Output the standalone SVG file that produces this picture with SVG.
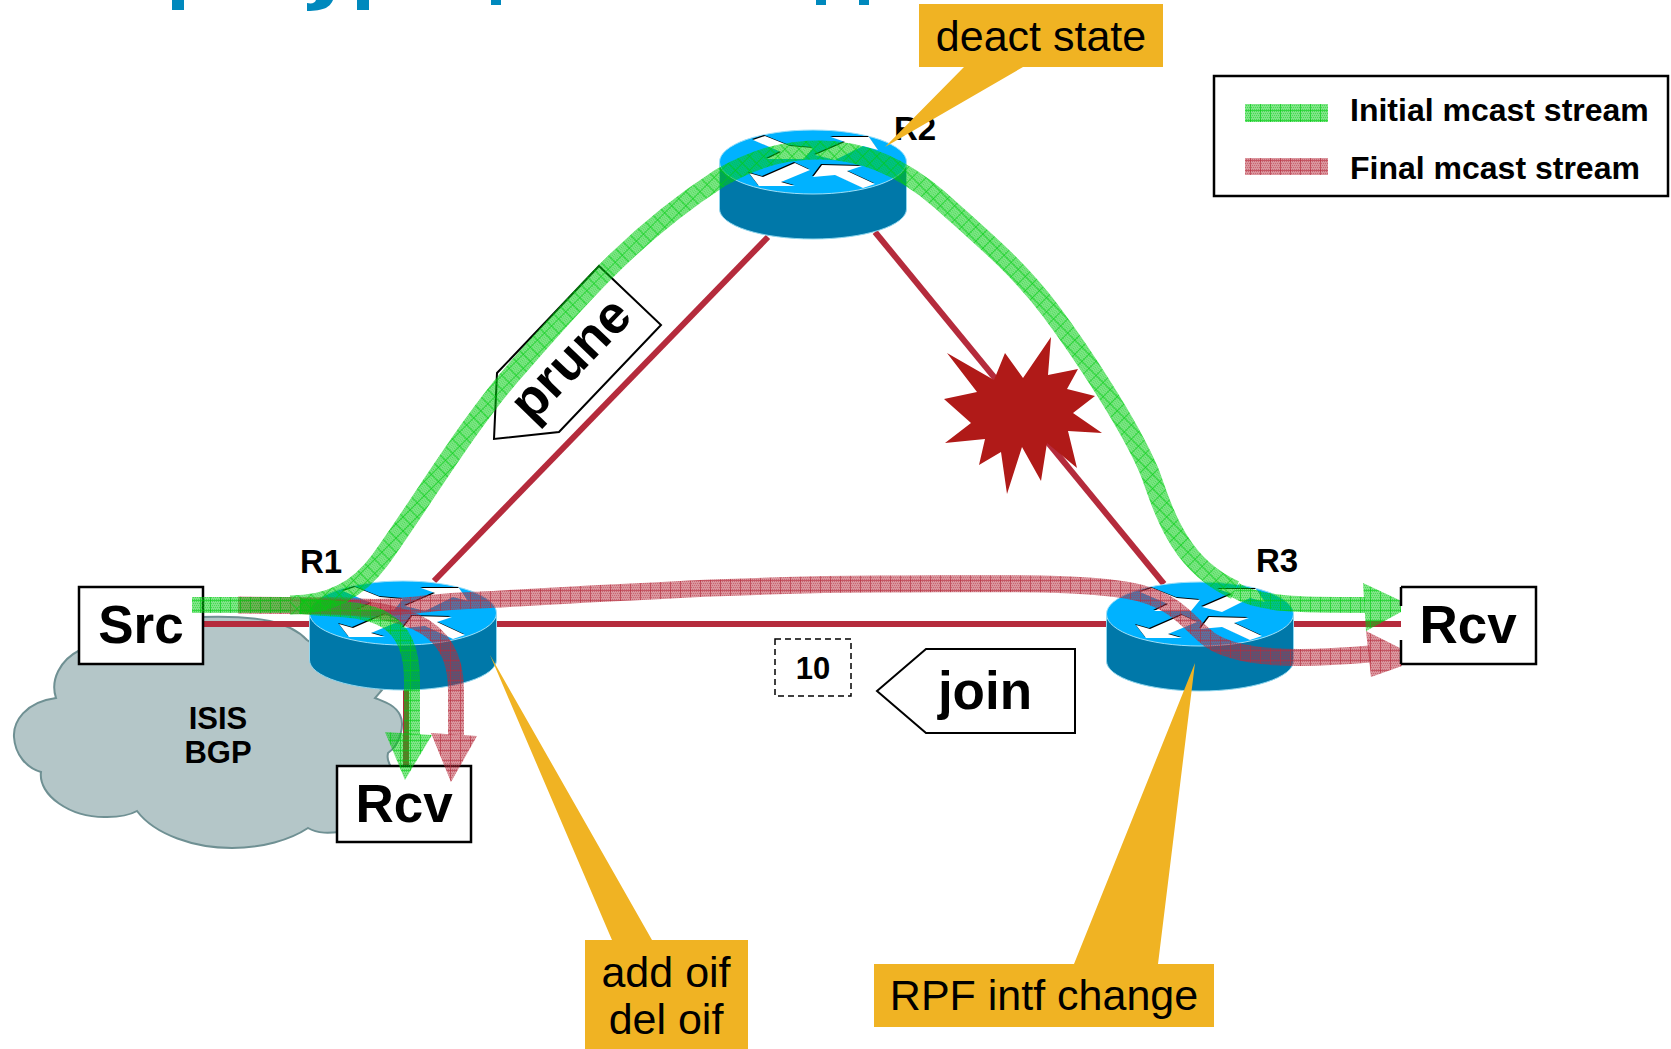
<svg xmlns="http://www.w3.org/2000/svg" width="1671" height="1049" viewBox="0 0 1671 1049">
<style>
text{font-family:"Liberation Sans",Arial,sans-serif;fill:#000}
.b{font-weight:700}
.m{text-anchor:middle}
.big{font-size:53px}
.lab{font-size:33px}
.leg{font-size:32px}
.call{font-size:43px}
.box{fill:#fff;stroke:#000;stroke-width:2.5}
.tip{fill:#f0b323}
.link{stroke:#b52b3c;stroke-width:6;fill:none}
.gs{fill:none;stroke:url(#gd);stroke-width:19}
.gb{fill:none;stroke:url(#gp);stroke-width:16}
.rb{fill:none;stroke:url(#rp);stroke-width:16}
.rs{fill:none;stroke:url(#rp);stroke-width:17}
.ga{fill:url(#gp)}
.ra{fill:url(#rp)}
.title{fill:#0089bd}
</style>
<defs>
<pattern id="gp" width="10" height="10" patternUnits="userSpaceOnUse">
<rect width="10" height="10" fill="#00cc10" fill-opacity=".5"/>
<path d="M0 1.5H10M1 3.5H10M0 5.5H10M1 7.5H10M0 9.5H10" stroke="#00cc10" stroke-opacity=".45" stroke-dasharray="1 1"/>
<path d="M0 .5H10M.5 0V10" stroke="#00cc10" stroke-opacity=".6"/>
</pattern>
<pattern id="gd" href="#gp" patternTransform="rotate(45)"/>
<pattern id="rp" width="10" height="10" patternUnits="userSpaceOnUse">
<rect width="10" height="10" fill="#b52b3c" fill-opacity=".5"/>
<path d="M0 1.5H10M1 3.5H10M0 5.5H10M1 7.5H10M0 9.5H10" stroke="#b52b3c" stroke-opacity=".45" stroke-dasharray="1 1"/>
<path d="M0 .5H10M.5 0V10" stroke="#b52b3c" stroke-opacity=".6"/>
</pattern>
<g id="router">
<path d="M-93.5 0V47A93.5 30 0 0 0 93.5 47V0Z" fill="#0078a9" stroke="#8fd6ee" stroke-width="1"/>
<ellipse rx="93.5" ry="32" fill="#00b2ff" stroke="#9fe0f8" stroke-width="1"/>
<g fill="#000" transform="translate(-1 -1)">
<path d="M-60-22-48-26-23-16 0-14-9-3-46-3-32-10Z"/><path d="M65-12 56-25H18L32-20 2-7 22-2 50-16Z"/><path d="M-64 11-54 24-18 24-32 20-3 8-18 1-50 15Z"/><path d="M62 22 50 26 22 13 0 15 9 3 49 4 34 9Z"/>
</g>
<g fill="#fff">
<path d="M-60-22-48-26-23-16 0-14-9-3-46-3-32-10Z"/><path d="M65-12 56-25H18L32-20 2-7 22-2 50-16Z"/><path d="M-64 11-54 24-18 24-32 20-3 8-18 1-50 15Z"/><path d="M62 22 50 26 22 13 0 15 9 3 49 4 34 9Z"/>
</g>
</g>
</defs>
<rect width="1671" height="1049" fill="#fff"/>
<g id="title-fragment" class="title">
<rect x="172" y="0" width="12" height="10"/>
<path d="M316 0H333C330 7 324 11 307 11V3C312 4 315 3 316 0Z"/>
<rect x="357" y="0" width="12" height="10"/>
<rect x="491" y="0" width="10" height="5"/>
<rect x="816" y="0" width="10" height="5"/>
<rect x="859" y="0" width="10" height="5"/>
</g>
<g id="cloud">
<path d="M80 650C60 660 50 680 56 698C25 702 13 722 14 737C15 755 27 768 41 772C38 795 70 818 107 817C120 817 130 815 137 811C155 835 195 848 232 848C262 848 290 840 308 828C318 834 330 833 340 832L390 765C386 758 388 755 388 753C400 745 405 725 400 715C395 705 385 702 375 698L382 690L307 640C290 622 260 615 200 617Z" fill="#b4c6c8" stroke="#6f9093" stroke-width="2"/>
<text class="b m" x="218" y="729" font-size="31">ISIS</text>
<text class="b m" x="218" y="763" font-size="31">BGP</text>
</g>
<g id="links">
<path class="link" d="M202 624H1401"/>
<path class="link" d="M434 581L768 237"/>
<path class="link" d="M875 232L1164 584"/>
<path class="link" d="M406 688V766"/>
</g>
<g id="node-r1"><use href="#router" x="403" y="613"/><text class="b m lab" x="321" y="573">R1</text></g>
<g id="node-r2"><text class="b m lab" x="915" y="140">R2</text><use href="#router" x="813" y="162"/></g>
<g id="node-r3"><use href="#router" x="1200" y="614"/><text class="b m lab" x="1277" y="572">R3</text></g>
<g id="node-src"><rect class="box" x="79" y="587" width="124" height="77"/><text class="b m big" x="141" y="643">Src</text></g>
<g id="node-rcv1"><rect class="box" x="337" y="766" width="134" height="76"/><text class="b m big" x="404" y="822">Rcv</text></g>
<g id="node-star"><path d="M947 353L994 380L1005 353L1023 378L1051 337L1048 375L1078 369L1067 389L1095 396L1073 413L1102 433L1068 431L1077 468L1047 443L1041 481L1022 447L1007 494L1001 452L979 465L985 439L945 443L971 423L944 399L977 392Z" fill="#b01a18"/></g>
<g id="node-prune"><path d="M599 266L661 325L559 432L494 439L497 373Z" fill="#fff" stroke="#000" stroke-width="2"/></g>
<g id="node-join"><path d="M877 691L926 649H1075V733H926Z" fill="#fff" stroke="#000" stroke-width="2"/><text class="b m big" x="985" y="709">join</text></g>
<g id="node-metric"><rect x="775" y="639" width="76" height="57" fill="#fff" stroke="#000" stroke-width="1.5" stroke-dasharray="6 4"/><text class="b m" x="813" y="679" font-size="31">10</text></g>
<g id="node-deact"><path class="tip" d="M919 4H1163V67H1023L885 147L964 67H919Z"/><text class="m call" x="1041" y="51">deact state</text></g>
<g id="node-addoif"><path class="tip" d="M612 940H652L490 655ZM585 940H748V1049H585Z"/><text class="m call" x="666" y="987">add oif</text><text class="m call" x="666" y="1034">del oif</text></g>
<g id="node-rpf"><path class="tip" d="M874 964H1074L1195 663L1158 964H1214V1027H874Z"/><text class="m call" x="1044" y="1010">RPF intf change</text></g>
<g id="connectors">
<path class="rs" d="M238 605L345 606C400 611 425 601 480 600C600 594 750 584 880 584C1000 584 1090 581 1140 593C1180 604 1190 625 1210 640C1240 660 1300 660 1370 654"/>
<path class="ra" d="M1366 631L1402 649V666L1371 677Z"/>
<path class="rb" d="M300 606C400 606 456 620 456 690V735"/>
<path class="ra" d="M431 733L477 736L451 782Z"/>
<path class="gb" d="M192 605L290 605"/>
<path class="gs" d="M290 605C330 605 358 590 380 560C420 505 470 420 520 365C590 285 640 230 720 178C760 155 790 150 820 150C860 150 900 165 940 200C985 240 1020 270 1050 310C1080 350 1130 425 1150 473C1165 515 1180 565 1235 590"/>
<path class="gb" d="M1235 590C1260 605 1300 605 1365 605"/>
<path class="ga" d="M1363 583L1412 606L1366 631Z"/>
<path class="gb" d="M300 606C350 612 412 600 412 680V735"/>
<path class="ga" d="M385 732L432 735L405 780Z"/>
</g>
<g id="node-rcv2"><path d="M1401 587H1536V664H1401" class="box"/><path d="M1401 587V606M1401 640V664" stroke="#000" stroke-width="2.5"/><text class="b m big" x="1468" y="643">Rcv</text></g>
<text class="b m big" transform="translate(583 371) rotate(-46)">prune</text>
<g id="legend">
<rect class="box" x="1214" y="76" width="454" height="120"/>
<rect class="ga" x="1245" y="104" width="83" height="18"/>
<rect class="ra" x="1245" y="158" width="83" height="17"/>
<text class="b leg" x="1350" y="121">Initial mcast stream</text>
<text class="b leg" x="1350" y="179">Final mcast stream</text>
</g>
</svg>
